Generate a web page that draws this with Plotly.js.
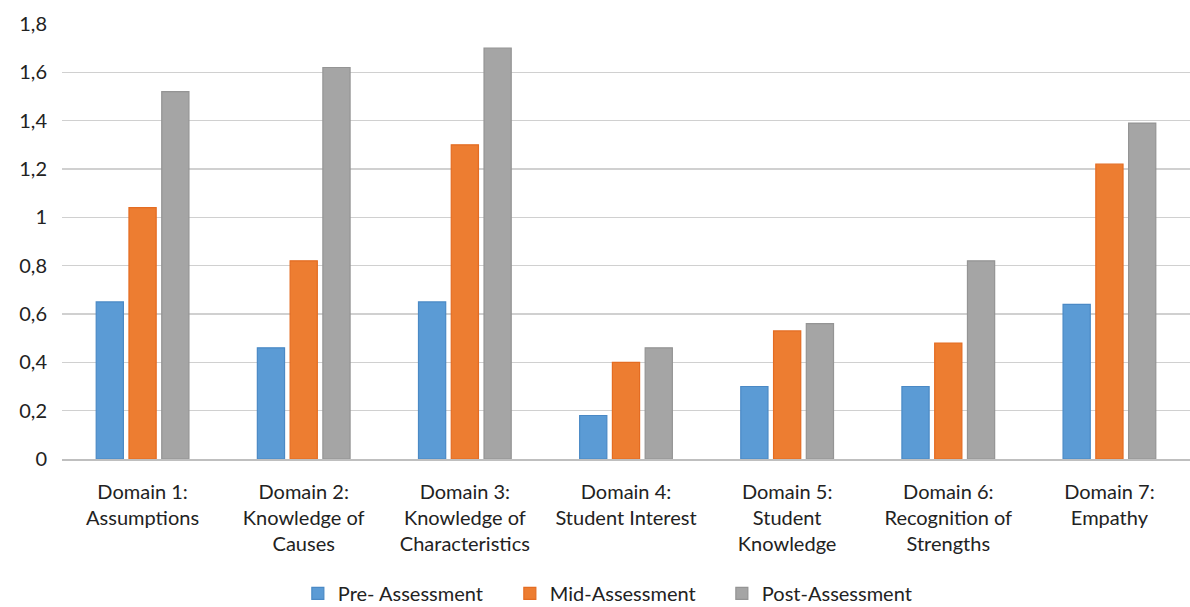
<!DOCTYPE html>
<html><head><meta charset="utf-8">
<script src="https://cdn.plot.ly/plotly-3.0.1.min.js"></script>
<style>html,body{margin:0;padding:0;background:#fff}#chart{width:1190px;height:607px}</style>
</head><body><div id="chart"></div>
<script>
const categories = ["Domain 1:<br>Assumptions","Domain 2:<br>Knowledge of<br>Causes","Domain 3:<br>Knowledge of<br>Characteristics","Domain 4:<br>Student Interest","Domain 5:<br>Student<br>Knowledge","Domain 6:<br>Recognition of<br>Strengths","Domain 7:<br>Empathy"];
const preValues  = [0.65, 0.46, 0.65, 0.18, 0.30, 0.30, 0.64];
const midValues  = [1.04, 0.82, 1.30, 0.40, 0.53, 0.48, 1.22];
const postValues = [1.52, 1.62, 1.70, 0.46, 0.56, 0.82, 1.39];
const seriesNames = ["Pre- Assessment","Mid-Assessment","Post-Assessment"];
const tickVals = [0,0.2,0.4,0.6,0.8,1,1.2,1.4,1.6,1.8];
const tickText = ["0","0,2","0,4","0,6","0,8","1","1,2","1,4","1,6","1,8"];

const fills = ["#5B9BD5","#ED7D31","#A5A5A5"];
const lines = ["#4A89C5","#E46C22","#949494"];
const vals = [preValues, midValues, postValues];
const data = vals.map((v,i)=>({
  type:'bar', x:categories, y:v, name:seriesNames[i],
  marker:{color:fills[i], line:{color:lines[i], width:1.2}},
  hoverinfo:'y'
}));
const font = "Lato, 'Open Sans', sans-serif";
const layout = {
  width:1190, height:607,
  margin:{l:62, r:0, t:24, b:148, autoexpand:false},
  paper_bgcolor:'#fff', plot_bgcolor:'#fff',
  font:{family:font, size:20, color:'#222'},
  barmode:'group', bargap:0.39, bargroupgap:0.17,
  xaxis:{showgrid:false, showline:true, linecolor:'#BFBFBF', linewidth:1.5, ticks:'', tickangle:0, ticklabelstandoff:14, tickfont:{size:20, color:'#222'}, automargin:false},
  yaxis:{range:[0,1.8], tickvals:tickVals, ticktext:tickText, showgrid:true, gridcolor:'#D0D0D0', gridwidth:1.5,
         zeroline:false, showline:false, ticks:'', ticklabelstandoff:14, tickfont:{size:20, color:'#222'}, automargin:false},
  legend:{orientation:'h', x:0.491, xanchor:'center', y:-0.264, yanchor:'top',
          font:{size:20, color:'#222'}, itemwidth:30, tracegroupgap:0, entrywidth:167},
  showlegend:true
};
Plotly.newPlot('chart', data, layout, {displayModeBar:false, staticPlot:true});
</script></body></html>
